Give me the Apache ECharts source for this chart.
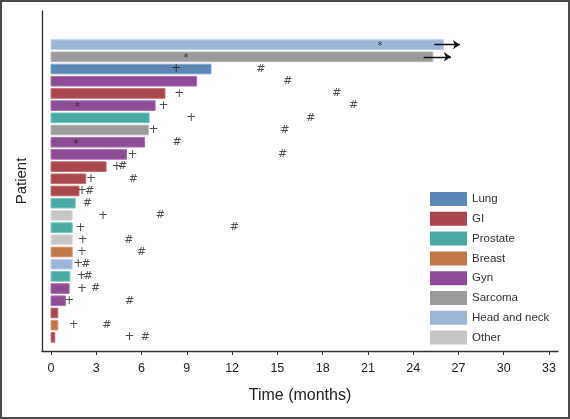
<!DOCTYPE html>
<html>
<head>
<meta charset="utf-8">
<script src="https://cdn.jsdelivr.net/npm/echarts@6/dist/echarts.min.js"></script>
<style>
  html, body { margin: 0; padding: 0; background: #fff; }
  #wrap { position: relative; width: 570px; height: 419px; }
  #chart { position: absolute; left: 0; top: 0; width: 570px; height: 419px; }
  #frame { position: absolute; left: 0; top: 0; width: 570px; height: 419px; box-sizing: border-box; border: 2px solid #4a4a4a; pointer-events: none; }
</style>
</head>
<body>
<div id="wrap"><div id="chart"></div><div id="frame"></div></div>
<script>
// ---- Data ----
const cancerTypes = ['Lung', 'GI', 'Prostate', 'Breast', 'Gyn', 'Sarcoma', 'Head and neck', 'Other'];
const typeColors = ['#5b86b5', '#a8474d', '#4aa9a1', '#c07848', '#8e4b96', '#9b9b9d', '#9db6d7', '#c6c6c6'];
const typeStrokes = ['#7ea3cc', '#c36a70', '#74c6bf', '#d9966a', '#ad6db5', '#b5b5b7', '#bcd0ea', '#dcdcdc'];

// patient rows (1 = top)
const rowType = ['Head and neck', 'Sarcoma', 'Lung', 'Gyn', 'GI', 'Gyn', 'Prostate', 'Sarcoma', 'Gyn', 'Gyn',
                 'GI', 'GI', 'GI', 'Prostate', 'Other', 'Prostate', 'Other', 'Breast', 'Head and neck', 'Prostate',
                 'Gyn', 'Gyn', 'GI', 'Breast', 'GI'];
const duration = [26.0, 25.3, 10.6, 9.65, 7.55, 6.9, 6.5, 6.45, 6.2, 5.0,
                  3.65, 2.3, 1.85, 1.6, 1.4, 1.4, 1.4, 1.4, 1.4, 1.25,
                  1.2, 0.95, 0.45, 0.45, 0.25];

const plusRow  = [3, 5, 6, 7, 8, 10, 11, 12, 13, 15, 16, 17, 18, 19, 20, 21, 22, 24, 25];
const plusTime = [8.3, 8.5, 7.45, 9.3, 6.8, 5.4, 4.35, 2.65, 2.05, 3.45, 1.95, 2.1, 2.05, 1.8, 2.0, 2.05, 1.2, 1.5, 5.2];

const hashRow  = [3, 4, 5, 6, 7, 8, 9, 10, 11, 12, 13, 14, 15, 16, 17, 18, 19, 20, 21, 22, 24, 25];
const hashTime = [13.9, 15.7, 18.95, 20.05, 17.2, 15.5, 8.35, 15.35, 4.75, 5.45, 2.55, 2.4, 7.25, 12.15, 5.15, 6.0, 2.3, 2.45, 2.95, 5.2, 3.7, 6.25];

const starRow  = [1, 2, 6, 9];
const starTime = [21.8, 8.95, 1.75, 1.65];

const arrowRow   = [1, 2];
const arrowStart = [25.4, 24.7];
const arrowEnd   = [27.1, 26.5];

const xTicks = [0, 3, 6, 9, 12, 15, 18, 21, 24, 27, 30, 33];

// ---- Build ----
const FONT = 'Liberation Sans';
const chart = echarts.init(document.getElementById('chart'), null, { renderer: 'canvas' });

const barSeries = cancerTypes.map((t, ti) => {
  const data = [];
  rowType.forEach((rt, i) => { if (rt === t) data.push([duration[i], i + 1]); });
  return {
    name: t,
    type: 'custom',
    itemStyle: { color: typeColors[ti] },
    encode: { x: 0, y: 1 },
    data: data,
    z: 2,
    renderItem: function (params, api) {
      const row = api.value(1);
      const p0 = api.coord([0, row]);
      const p1 = api.coord([api.value(0), row]);
      const h = Math.abs(api.size([0, 1])[1]) * 0.79;
      return {
        type: 'rect',
        shape: { x: p0[0], y: p0[1] - h / 2, width: p1[0] - p0[0], height: h },
        style: { fill: typeColors[ti], stroke: typeStrokes[ti], lineWidth: 1 }
      };
    }
  };
});

function markerSeries(name, rows, times, ch, size, dy) {
  return {
    name: name,
    type: 'scatter',
    symbolSize: 1,
    itemStyle: { color: 'rgba(0,0,0,0)' },
    data: rows.map((r, i) => [times[i], r]),
    z: 5,
    silent: true,
    label: {
      show: true, position: 'inside', formatter: ch,
      fontFamily: 'DejaVu Sans', fontSize: size, color: '#222', offset: [0, dy]
    }
  };
}

const option = {
  animation: false,
  backgroundColor: '#fff',
  grid: { left: 42, right: 12, top: 11, bottom: 68, containLabel: false },
  legend: {
    data: cancerTypes,
    orient: 'vertical',
    left: 425, top: 187,
    icon: 'rect',
    itemWidth: 37, itemHeight: 14, itemGap: 5.8,
    textStyle: { fontFamily: FONT, fontSize: 11.5, color: '#333', padding: [0, 0, 0, 0] },
    itemStyle: { borderWidth: 0 }
  },
  xAxis: {
    type: 'value',
    min: -0.6, max: 33.6,
    name: 'Time (months)', nameLocation: 'middle', nameGap: 37,
    nameTextStyle: { fontFamily: FONT, fontSize: 16, color: '#222' },
    axisLine: { onZero: false, lineStyle: { color: '#333', width: 1.3 } },
    axisTick: { show: true, customValues: xTicks, length: 4, lineStyle: { color: '#333' } },
    axisLabel: { customValues: xTicks, fontFamily: FONT, fontSize: 12.5, color: '#222', margin: 11 },
    splitLine: { show: false }
  },
  yAxis: {
    type: 'value',
    inverse: true,
    min: -1.76, max: 26.12,
    name: 'Patient', nameLocation: 'middle', nameGap: 13,
    nameTextStyle: { fontFamily: FONT, fontSize: 15, color: '#222' },
    axisLine: { show: true, onZero: false, lineStyle: { color: '#333', width: 1.3 } },
    axisTick: { show: false },
    axisLabel: { show: false },
    splitLine: { show: false }
  },
  series: barSeries.concat([
    markerSeries('plus', plusRow, plusTime, '+', 12, 0),
    markerSeries('hash', hashRow, hashTime, '#', 11, 0),
    markerSeries('star', starRow, starTime, '*', 10, 2),
    {
      name: 'arrows',
      type: 'lines',
      coordinateSystem: 'cartesian2d',
      z: 6,
      silent: true,
      symbol: ['none', 'arrow'],
      symbolSize: 7,
      lineStyle: { color: '#111', width: 1.3, opacity: 1 },
      data: arrowRow.map((r, i) => ({ coords: [[arrowStart[i], r], [arrowEnd[i], r]] }))
    }
  ])
};
chart.setOption(option);
</script>
</body>
</html>
